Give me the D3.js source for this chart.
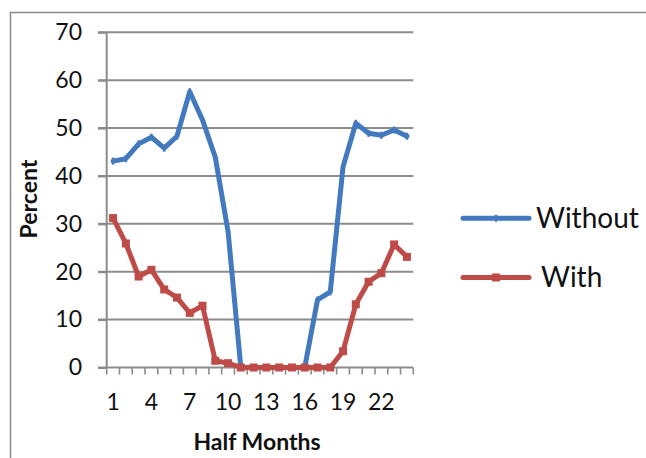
<!DOCTYPE html>
<html>
<head>
<meta charset="utf-8">
<script src="https://cdn.jsdelivr.net/npm/d3@7"></script>
<style>
  html, body { margin: 0; padding: 0; background: #fff; }
  svg { display: block; font-family: Lato, "Open Sans", sans-serif; }
</style>
</head>
<body>
<svg id="chart" width="646" height="458"></svg>
<script>
// Half-month periods 1..24
const halfMonths = d3.range(1, 25);
const xTickLabels = [1, 4, 7, 10, 13, 16, 19, 22];
const yTicks = [0, 10, 20, 30, 40, 50, 60, 70];

// Percent values per half month
const without = [43.1, 43.6, 46.7, 48.1, 45.8, 48.3, 57.6, 51.7, 43.9, 28.4, 0, 0,
                 0, 0, 0, 0, 14.1, 15.8, 41.9, 51.0, 48.9, 48.5, 49.6, 48.3];
const withS   = [31.2, 25.9, 19.0, 20.4, 16.3, 14.6, 11.4, 12.9, 1.4, 0.9, 0, 0,
                 0, 0, 0, 0, 0, 0, 3.4, 13.2, 17.9, 19.7, 25.7, 23.1];

const series = [
  { name: "Without", values: without, color: "#4379BE", marker: "dash" },
  { name: "With",    values: withS,   color: "#BE4B48", marker: "square" }
];

const svg = d3.select("#chart");
const gridColor = "#8c8c8c";
const tickFont = 23;
const titleFont = 23;

// Outer frame
svg.append("path")
  .attr("d", "M10.5,458 L10.5,12.5 L646,12.5")
  .attr("fill", "none").attr("stroke", "#8a8a8a").attr("stroke-width", 1.5);

const x = d3.scaleBand().domain(halfMonths).range([106.7, 413.3]).padding(0);
const y = d3.scaleLinear().domain([0, 70]).range([367.5, 32.3]);
const cx = d => x(d) + x.bandwidth() / 2;

// Horizontal gridlines
svg.append("g").selectAll("line").data(yTicks.filter(t => t > 0)).join("line")
  .attr("x1", 98).attr("x2", 413.3)
  .attr("y1", d => y(d)).attr("y2", d => y(d))
  .attr("stroke", gridColor).attr("stroke-width", 2);

// Y axis
const yAxis = svg.append("g").attr("transform", "translate(106.7,0)")
  .call(d3.axisLeft(y).tickValues(yTicks).tickSize(8.7).tickPadding(16));
yAxis.select(".domain").attr("stroke", gridColor).attr("stroke-width", 2)
  .attr("d", `M0,${y(70)}V${y(0)}`);
yAxis.selectAll(".tick line").attr("stroke", gridColor).attr("stroke-width", 2);
yAxis.selectAll(".tick text").attr("font-size", tickFont).attr("fill", "#111")
  .attr("font-family", "Lato, sans-serif");

// X axis with ticks at band boundaries
const xg = svg.append("g");
xg.append("line").attr("x1", 98).attr("x2", 413.3)
  .attr("y1", y(0)).attr("y2", y(0))
  .attr("stroke", gridColor).attr("stroke-width", 2);
const boundaries = halfMonths.map(d => x(d)).concat([x(24) + x.bandwidth()]);
xg.selectAll("line.tk").data(boundaries).join("line").attr("class", "tk")
  .attr("x1", d => d).attr("x2", d => d)
  .attr("y1", y(0)).attr("y2", y(0) + 7)
  .attr("stroke", gridColor).attr("stroke-width", 1.6);
xg.selectAll("text").data(xTickLabels).join("text")
  .attr("x", d => cx(d)).attr("y", 410)
  .attr("text-anchor", "middle").attr("font-size", tickFont).attr("fill", "#111")
  .text(d => d);

// Axis titles
svg.append("text").attr("x", 257).attr("y", 450)
  .attr("text-anchor", "middle").attr("font-size", titleFont).attr("font-weight", "bold")
  .attr("fill", "#111").text("Half Months");
svg.append("text").attr("transform", "translate(37,199) rotate(-90)")
  .attr("text-anchor", "middle").attr("font-size", titleFont).attr("font-weight", "bold")
  .attr("fill", "#111").text("Percent");

// Lines
const line = d3.line().x((v, i) => cx(halfMonths[i])).y(v => y(v));
function drawMarker(g, s, px, py) {
  if (s.marker === "square") {
    g.append("rect").attr("x", px - 4).attr("y", py - 4).attr("width", 8).attr("height", 8)
      .attr("fill", s.color);
  } else {
    g.append("line").attr("x1", px).attr("x2", px).attr("y1", py - 3.5).attr("y2", py + 3.5)
      .attr("stroke", s.color).attr("stroke-width", 2.5);
  }
}
series.forEach(s => {
  const g = svg.append("g");
  g.append("path").datum(s.values).attr("d", line)
    .attr("fill", "none").attr("stroke", s.color).attr("stroke-width", 5)
    .attr("stroke-linejoin", "round").attr("stroke-linecap", "round");
  s.values.forEach((v, i) => drawMarker(g, s, cx(halfMonths[i]), y(v)));
});

// Legend
const legendY = [218.3, 277.5];
const legendTextX = [536, 541];
series.forEach((s, i) => {
  const g = svg.append("g");
  g.append("line").attr("x1", 463).attr("x2", 529)
    .attr("y1", legendY[i]).attr("y2", legendY[i])
    .attr("stroke", s.color).attr("stroke-width", 5).attr("stroke-linecap", "round");
  drawMarker(g, s, 496, legendY[i]);
  g.append("text").attr("x", legendTextX[i]).attr("y", legendY[i] + 9.5)
    .attr("font-size", 28).attr("fill", "#111").text(s.name);
});
</script>
</body>
</html>
